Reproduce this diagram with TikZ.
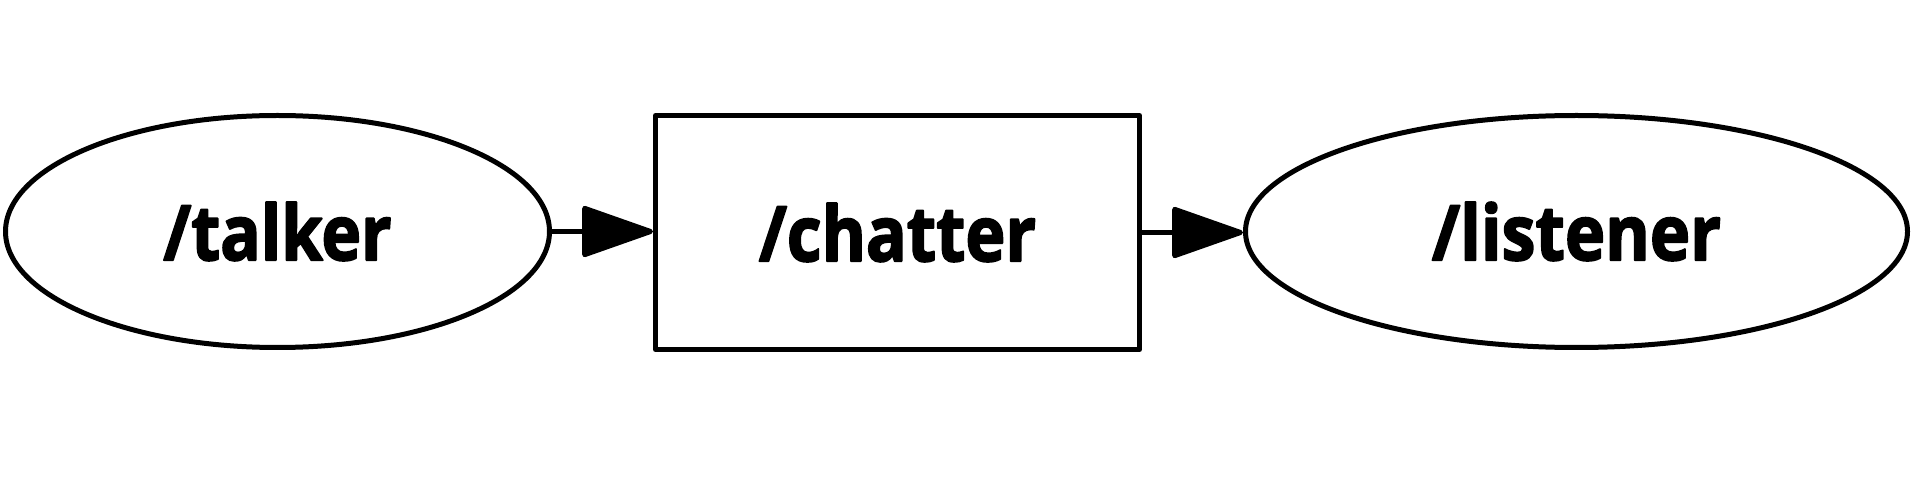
\documentclass[tikz,border=0pt]{standalone}
\usepackage{fontspec}
\setmainfont{Open Sans}[BoldFeatures={FakeBold=2.5}]
\usetikzlibrary{shapes.geometric,arrows.meta}
\tikzset{
  shapeline/.style={draw=black, line width=5pt, line join=round, fill=white, inner sep=0pt},
  topicbox/.style={shapeline, rectangle},
  nodeoval/.style={shapeline, ellipse},
  flow/.style={draw=black, line width=5pt, -{Triangle[length=76pt,width=52pt,round]}},
}
\newcommand{\lbltext}[2]{\resizebox{#1}{58pt}{\bfseries #2}}
\begin{document}
\begin{tikzpicture}[x=1pt,y=-1pt]
\useasboundingbox[fill=white] (0,0) rectangle (1915,478);
\node[nodeoval, minimum width=544pt, minimum height=232pt] (talker) at (277.5,231.5) {\lbltext{228pt}{/talker}};
\node[topicbox, minimum width=484pt, minimum height=234pt] (chatter) at (897.5,232.5) {\lbltext{277pt}{/chatter}};
\node[nodeoval, minimum width=662pt, minimum height=232pt] (listener) at (1576.5,231.5) {\lbltext{289pt}{/listener}};
\draw[flow] (talker.east) -- (talker.east -| chatter.west);
\draw[flow] (chatter.east) -- (chatter.east -| listener.west);
\end{tikzpicture}
\end{document}
